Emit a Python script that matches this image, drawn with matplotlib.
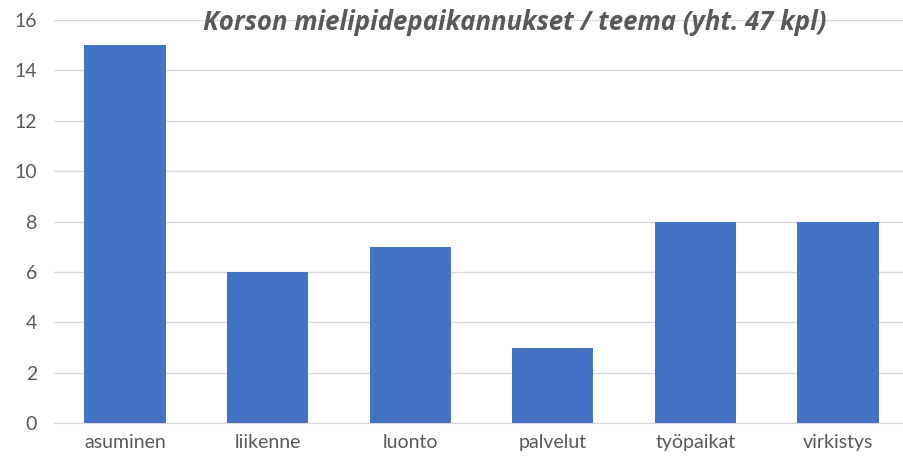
import matplotlib.pyplot as plt

# teemat ja mielipidepaikannusten määrät
teemat = ["asuminen", "liikenne", "luonto", "palvelut", "työpaikat", "virkistys"]
maarat = [15, 6, 7, 3, 8, 8]
y_ticks = [0, 2, 4, 6, 8, 10, 12, 14, 16]

plt.rcParams['font.family'] = ['Lato', 'DejaVu Sans']

fig = plt.figure(figsize=(9.04, 4.63), dpi=100)
ax = fig.add_axes([0.0594, 0.086, 0.9465, 0.871])

ax.bar(teemat, maarat, width=0.57, color="#4472C4", zorder=2)

ax.set_ylim(0, 16)
ax.set_xlim(-0.5, len(teemat) - 0.5)
ax.set_yticks(y_ticks)
ax.grid(axis="y", color="#D9D9D9", linewidth=1, zorder=0)
for s in ["top", "right", "left"]:
    ax.spines[s].set_visible(False)
ax.spines["bottom"].set_color("#D9D9D9")
ax.tick_params(axis="both", length=0, labelsize=14, colors="#595959")
ax.tick_params(axis="x", pad=8)
ax.tick_params(axis="y", pad=12)

fig.text(0.569, 0.952, "Korson mielipidepaikannukset / teema (yht. 47 kpl)",
         ha="center", va="center", fontsize=18.5, fontweight="bold",
         fontstyle="italic", color="#595959", family=["Open Sans", "DejaVu Sans"])

fig.savefig("out.png", dpi=100)
